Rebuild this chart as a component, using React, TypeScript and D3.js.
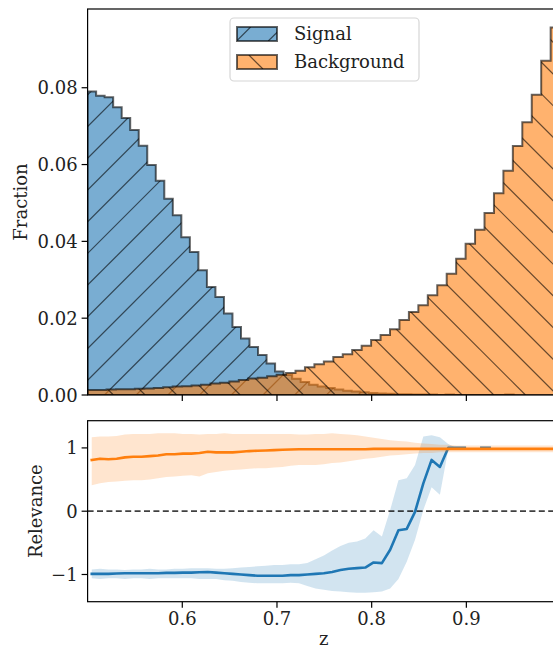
import { useEffect, useRef } from 'react';
import * as d3 from 'd3';

// top panel: fraction per bin, 50 bins each over its own z range
const signalRange = [0.5, 0.95];
const signalFrac = [
  0.079, 0.0779, 0.0775, 0.0749, 0.0721, 0.069, 0.0649, 0.0599, 0.0558, 0.0511,
  0.0468, 0.0411, 0.0372, 0.0325, 0.0281, 0.0255, 0.0212, 0.0177, 0.0147, 0.0125,
  0.0104, 0.0082, 0.0061, 0.0052, 0.0042, 0.0034, 0.0027, 0.0022, 0.0018, 0.0014,
  0.0011, 0.0009, 0.0007, 0.0005, 0.0004, 0.0003, 0.0002, 0.0002, 0.0001, 0.0001,
  0.0001, 0, 0.0001, 0, 0, 0, 0, 0, 0, 0.0001,
];
const backgroundRange = [0.5, 0.999];
const backgroundFrac = [
  0.0013, 0.0013, 0.0014, 0.0015, 0.0015, 0.0016, 0.0017, 0.0018, 0.002, 0.0022,
  0.0023, 0.0025, 0.0027, 0.003, 0.0032, 0.0035, 0.0039, 0.0043, 0.0045, 0.0049,
  0.0053, 0.0057, 0.0063, 0.0072, 0.008, 0.0087, 0.0099, 0.0106, 0.0117, 0.0128,
  0.0143, 0.0156, 0.0171, 0.0195, 0.0216, 0.0234, 0.026, 0.0286, 0.0316, 0.0355,
  0.0394, 0.043, 0.0474, 0.0525, 0.0584, 0.0648, 0.071, 0.0782, 0.087, 0.0957,
];

// bottom panel: relevance per z bin (57 bins over [0.5, 0.999]), null = no data
const relSignal = [
  -0.99, -0.99, -0.99, -0.985, -0.98, -0.98, -0.98, -0.98, -0.98, -0.975,
  -0.975, -0.97, -0.97, -0.965, -0.96, -0.97, -0.98, -0.99, -1.0, -1.01,
  -1.02, -1.02, -1.02, -1.02, -1.01, -1.01, -1.0, -0.99, -0.98, -0.96,
  -0.93, -0.91, -0.9, -0.89, -0.81, -0.82, -0.61, -0.3, -0.28, -0.01,
  0.44, 0.81, 0.7, 1.0, 1.0, 1.0, null, 1.0, 1.0, null,
  null, null, null, null, null, null, null,
];
const relSignalHi = [
  -0.92, -0.91, -0.92, -0.92, -0.93, -0.92, -0.92, -0.91, -0.92, -0.92,
  -0.91, -0.91, -0.9, -0.9, -0.9, -0.91, -0.91, -0.9, -0.89, -0.88,
  -0.87, -0.86, -0.85, -0.85, -0.84, -0.84, -0.82, -0.76, -0.7, -0.62,
  -0.55, -0.5, -0.48, -0.43, -0.3, -0.4, 0.02, 0.49, 0.52, 0.73,
  1.18, 1.2, 1.17, 1.06, 1.0, 1.0, null, 1.0, 1.0, null,
  null, null, null, null, null, null, null,
];
const relSignalLo = [
  -1.06, -1.07, -1.06, -1.06, -1.07, -1.06, -1.06, -1.07, -1.06, -1.06,
  -1.06, -1.06, -1.06, -1.07, -1.07, -1.07, -1.09, -1.1, -1.12, -1.13,
  -1.14, -1.14, -1.14, -1.14, -1.13, -1.14, -1.18, -1.22, -1.24, -1.26,
  -1.27, -1.28, -1.29, -1.29, -1.28, -1.27, -1.22, -1.07, -0.8, -0.45,
  0.02, 0.38, 0.26, 0.97, 1.0, 1.0, null, 1.0, 1.0, null,
  null, null, null, null, null, null, null,
];
const relBackground = [
  0.81, 0.83, 0.82, 0.83, 0.85, 0.86, 0.86, 0.87, 0.88, 0.9,
  0.9, 0.91, 0.91, 0.92, 0.94, 0.93, 0.93, 0.93, 0.94, 0.95,
  0.955, 0.96, 0.965, 0.97, 0.975, 0.98, 0.98, 0.98, 0.98, 0.98,
  0.98, 0.98, 0.98, 0.98, 0.985, 0.985, 0.985, 0.985, 0.985, 0.985,
  0.985, 0.985, 0.985, 0.985, 0.985, 0.985, 0.985, 0.985, 0.985, 0.985,
  0.985, 0.985, 0.985, 0.985, 0.985, 0.985, 0.985,
];
const relBackgroundHi = [
  1.17, 1.18, 1.18, 1.19, 1.21, 1.22, 1.22, 1.22, 1.23, 1.23,
  1.23, 1.22, 1.22, 1.21, 1.22, 1.22, 1.23, 1.22, 1.22, 1.22,
  1.22, 1.22, 1.22, 1.22, 1.22, 1.21, 1.21, 1.22, 1.22, 1.23,
  1.22, 1.21, 1.2, 1.18, 1.16, 1.14, 1.12, 1.11, 1.1, 1.08,
  1.07, 1.06, 1.05, 1.05, 1.04, 1.04, 1.04, 1.04, 1.04, 1.04,
  1.04, 1.04, 1.04, 1.04, 1.04, 1.04, 1.04,
];
const relBackgroundLo = [
  0.41, 0.44, 0.46, 0.47, 0.48, 0.49, 0.49, 0.5, 0.52, 0.54,
  0.55, 0.56, 0.57, 0.55, 0.6, 0.62, 0.64, 0.65, 0.66, 0.67,
  0.68, 0.68, 0.69, 0.7, 0.72, 0.73, 0.73, 0.73, 0.74, 0.76,
  0.77, 0.79, 0.81, 0.83, 0.84, 0.86, 0.88, 0.89, 0.9, 0.91,
  0.92, 0.92, 0.93, 0.93, 0.93, 0.93, 0.93, 0.93, 0.93, 0.93,
  0.93, 0.93, 0.93, 0.93, 0.93, 0.93, 0.93,
];

const xTicks = [0.6, 0.7, 0.8, 0.9];
const fracTicks = [0, 0.02, 0.04, 0.06, 0.08];
const relTicks = [-1, 0, 1];
const seriesNames = ['Signal', 'Background'];

const BLUE = '#1f77b4';
const ORANGE = '#ff7f0e';
const FONT = 'DejaVu Serif, serif';

const App = () => {
  const svgRef = useRef<SVGSVGElement>(null);

  useEffect(() => {
    const width = 553;
    const height = 648;
    const left = 87.6;
    const right = 560.1;
    const top1 = 9;
    const bot1 = 395;
    const top2 = 420.7;
    const bot2 = 601.7;
    const hatchStep = 31.7;

    const svg = d3.select(svgRef.current).attr('width', width).attr('height', height);
    svg.selectAll('*').remove();
    const defs = svg.append('defs');

    const x = d3.scaleLinear().domain([0.5, 0.999]).range([left, right]);
    const yF = d3.scaleLinear().domain([0, 0.1005]).range([bot1, top1]);
    const yR = d3.scaleLinear().domain([-1.43, 1.43]).range([bot2, top2]);

    // clip for each panel
    defs.append('clipPath').attr('id', 'clip1')
      .append('rect').attr('x', left).attr('y', top1).attr('width', right - left).attr('height', bot1 - top1);
    defs.append('clipPath').attr('id', 'clip2')
      .append('rect').attr('x', left).attr('y', top2).attr('width', right - left).attr('height', bot2 - top2);

    // hatch lines clipped to a shape; '/' lines are x+y=c, '\' lines are y-x=c
    const hatch = (g, clipId, dir, x0, x1, y0, y1, offset) => {
      const hg = g.append('g').attr('clip-path', `url(#${clipId})`);
      const cMin = dir === '/' ? x0 + y0 : y0 - x1;
      const cMax = dir === '/' ? x1 + y1 : y1 - x0;
      const k0 = Math.floor((cMin - offset) / hatchStep) - 1;
      const k1 = Math.ceil((cMax - offset) / hatchStep) + 1;
      d3.range(k0, k1 + 1).forEach((k) => {
        const c = offset + k * hatchStep;
        const p = dir === '/'
          ? [c - y0, y0, c - y1, y1]
          : [y0 - c, y0, y1 - c, y1];
        hg.append('line')
          .attr('x1', p[0]).attr('y1', p[1]).attr('x2', p[2]).attr('y2', p[3])
          .attr('stroke', '#000').attr('stroke-opacity', 0.6).attr('stroke-width', 1.2);
      });
    };

    const histPath = (vals, range) => {
      const w = (range[1] - range[0]) / vals.length;
      const pts: [number, number][] = [[range[0], 0]];
      vals.forEach((v, i) => {
        pts.push([range[0] + i * w, v]);
        pts.push([range[0] + (i + 1) * w, v]);
      });
      pts.push([range[1], 0]);
      return d3.line().x((d) => x(d[0])).y((d) => yF(d[1]))(pts) + 'Z';
    };

    // ---------- top panel ----------
    const p1 = svg.append('g').attr('clip-path', 'url(#clip1)');
    const hists = [
      { vals: signalFrac, range: signalRange, color: BLUE, id: 'hs', dir: '/', off: 24 },
      { vals: backgroundFrac, range: backgroundRange, color: ORANGE, id: 'hb', dir: '\\', off: 28 },
    ];
    hists.forEach((h) => {
      const d = histPath(h.vals, h.range);
      defs.append('clipPath').attr('id', h.id).append('path').attr('d', d);
      p1.append('path').attr('d', d).attr('fill', h.color).attr('fill-opacity', 0.6);
      hatch(p1, h.id, h.dir, left, right, top1, bot1, h.off);
      p1.append('path').attr('d', d).attr('fill', 'none')
        .attr('stroke', '#000').attr('stroke-opacity', 0.6).attr('stroke-width', 2)
        .attr('stroke-linejoin', 'miter');
    });

    svg.append('rect').attr('x', left).attr('y', top1).attr('width', right - left).attr('height', bot1 - top1)
      .attr('fill', 'none').attr('stroke', '#000').attr('stroke-width', 1.2);

    fracTicks.forEach((t) => {
      svg.append('line').attr('x1', left - 6).attr('x2', left).attr('y1', yF(t)).attr('y2', yF(t))
        .attr('stroke', '#000').attr('stroke-width', 1.2);
      svg.append('text').attr('x', left - 10).attr('y', yF(t) + 6.5)
        .attr('text-anchor', 'end').attr('font-family', FONT).attr('font-size', 18).attr('fill', '#222')
        .text(d3.format('.2f')(t));
    });
    xTicks.forEach((t) => {
      svg.append('line').attr('x1', x(t)).attr('x2', x(t)).attr('y1', bot1).attr('y2', bot1 + 6)
        .attr('stroke', '#000').attr('stroke-width', 1.2);
    });
    svg.append('text').attr('transform', `translate(27,${(top1 + bot1) / 2}) rotate(-90)`)
      .attr('text-anchor', 'middle').attr('font-family', FONT).attr('font-size', 18).attr('fill', '#222')
      .text('Fraction');

    // legend
    const lg = svg.append('g');
    lg.append('rect').attr('x', 230).attr('y', 18).attr('width', 189).attr('height', 63).attr('rx', 4)
      .attr('fill', '#fff').attr('fill-opacity', 0.8).attr('stroke', '#d6d6d6').attr('stroke-width', 1.2);
    hists.forEach((h, i) => {
      const py = 27 + i * 28;
      const id = `leg${i}`;
      defs.append('clipPath').attr('id', id)
        .append('rect').attr('x', 237).attr('y', py).attr('width', 40).attr('height', 14);
      lg.append('rect').attr('x', 237).attr('y', py).attr('width', 40).attr('height', 14)
        .attr('fill', h.color).attr('fill-opacity', 0.6);
      hatch(lg, id, h.dir, 237, 277, py, py + 14, h.off);
      lg.append('rect').attr('x', 237).attr('y', py).attr('width', 40).attr('height', 14)
        .attr('fill', 'none').attr('stroke', '#000').attr('stroke-opacity', 0.6).attr('stroke-width', 2);
      lg.append('text').attr('x', 294).attr('y', py + 13)
        .attr('font-family', FONT).attr('font-size', 18).attr('fill', '#222').text(seriesNames[i]);
    });

    // ---------- bottom panel ----------
    const zGrid = d3.range(relSignal.length).map((i) => 0.5 + ((i + 0.5) * 0.499) / relSignal.length);
    const p2 = svg.append('g').attr('clip-path', 'url(#clip2)');
    const bands = [
      { mid: relSignal, lo: relSignalLo, hi: relSignalHi, color: BLUE },
      { mid: relBackground, lo: relBackgroundLo, hi: relBackgroundHi, color: ORANGE },
    ];
    bands.forEach((b) => {
      const area = d3.area<number>()
        .defined((i) => b.lo[i] != null && b.hi[i] != null)
        .x((i) => x(zGrid[i]))
        .y0((i) => yR(b.lo[i]))
        .y1((i) => yR(b.hi[i]));
      p2.append('path').attr('d', area(d3.range(zGrid.length)))
        .attr('fill', b.color).attr('fill-opacity', 0.2);
      const line = d3.line<number>()
        .defined((i) => b.mid[i] != null)
        .x((i) => x(zGrid[i]))
        .y((i) => yR(b.mid[i]));
      p2.append('path').attr('d', line(d3.range(zGrid.length)))
        .attr('fill', 'none').attr('stroke', b.color).attr('stroke-width', 2.6)
        .attr('stroke-linecap', 'square').attr('stroke-linejoin', 'round');
    });
    p2.append('line').attr('x1', left).attr('x2', right).attr('y1', yR(0)).attr('y2', yR(0))
      .attr('stroke', '#000').attr('stroke-opacity', 0.75).attr('stroke-width', 1.8)
      .attr('stroke-dasharray', '6,3.4');

    svg.append('rect').attr('x', left).attr('y', top2).attr('width', right - left).attr('height', bot2 - top2)
      .attr('fill', 'none').attr('stroke', '#000').attr('stroke-width', 1.2);

    relTicks.forEach((t) => {
      svg.append('line').attr('x1', left - 6).attr('x2', left).attr('y1', yR(t)).attr('y2', yR(t))
        .attr('stroke', '#000').attr('stroke-width', 1.2);
      svg.append('text').attr('x', left - 10).attr('y', yR(t) + 6.5)
        .attr('text-anchor', 'end').attr('font-family', FONT).attr('font-size', 18).attr('fill', '#222')
        .text(t < 0 ? `\u2212${Math.abs(t)}` : `${t}`);
    });
    xTicks.forEach((t) => {
      svg.append('line').attr('x1', x(t)).attr('x2', x(t)).attr('y1', bot2).attr('y2', bot2 + 6)
        .attr('stroke', '#000').attr('stroke-width', 1.2);
      svg.append('text').attr('x', x(t)).attr('y', 625)
        .attr('text-anchor', 'middle').attr('font-family', FONT).attr('font-size', 18).attr('fill', '#222')
        .text(d3.format('.1f')(t));
    });
    svg.append('text').attr('transform', `translate(42,${(top2 + bot2) / 2}) rotate(-90)`)
      .attr('text-anchor', 'middle').attr('font-family', FONT).attr('font-size', 18).attr('fill', '#222')
      .text('Relevance');
    svg.append('text').attr('x', (left + right) / 2).attr('y', 645)
      .attr('text-anchor', 'middle').attr('font-family', FONT).attr('font-size', 18).attr('fill', '#222')
      .text('z');
  }, []);

  return (
    <svg ref={svgRef} style={{ position: 'absolute', left: 0, top: 0, display: 'block' }}></svg>
  );
};

export default App;
